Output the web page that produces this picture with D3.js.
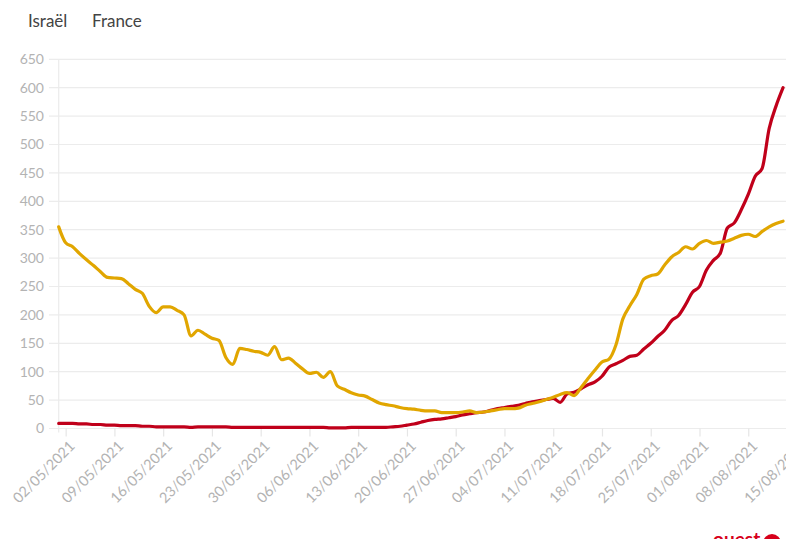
<!DOCTYPE html>
<html>
<head>
<meta charset="utf-8">
<script src="https://cdn.jsdelivr.net/npm/d3@7"></script>
<style>
  html, body { margin: 0; padding: 0; background: #fff; overflow: hidden; }
  svg { display: block; font-family: Lato, "Open Sans", sans-serif; }
</style>
</head>
<body>
<svg id="canvas" width="786" height="539"></svg>
<script>
// data : taux d'incidence, 01/05/2021 -> 13/08/2021 (one value per day)
let startDate = '01/05/2021'
let seriesNames = ['Israël', 'France']
let seriesColors = ['#c0001a', '#e1a600']

let israelValues = [
  9, 9, 9, 8, 8, 7, 7, 6, 6, 5,
  5, 5, 4, 4, 3, 3, 3, 3, 3, 2,
  3, 3, 3, 3, 3, 2, 2, 2, 2, 2,
  2, 2, 2, 2, 2, 2, 2, 2, 2, 1,
  1, 1, 2, 2, 2, 2, 2, 2, 3, 4,
  6, 8, 11, 14, 16, 17, 19, 21, 24, 26,
  28, 29, 32, 35, 37, 39, 41, 44, 47, 49,
  51, 53, 46, 61, 64, 70, 77, 82, 92, 108,
  114, 120, 127, 129, 140, 150, 162, 173, 190, 199,
  218, 240, 250, 279, 296, 309, 353, 362, 385, 412,
  444, 458, 528, 568, 600
]

let franceValues = [
  355, 327, 320, 308, 297, 287, 276, 266, 265, 264,
  255, 245, 238, 215, 204, 214, 214, 208, 200, 163,
  173, 166, 159, 155, 125, 113, 141, 139, 136, 134,
  129, 144, 121, 124, 115, 105, 97, 99, 90, 100,
  75, 69, 63, 59, 57, 51, 45, 42, 40, 37,
  35, 34, 32, 31, 31, 28, 28, 28, 29, 31,
  28, 29, 31, 33, 35, 35, 36, 41, 44, 47,
  51, 55, 60, 63, 58, 72, 88, 103, 117, 122,
  147, 193, 216, 236, 263, 269, 272, 288, 302, 310,
  320, 316, 326, 331, 326, 328, 330, 335, 340, 342,
  338, 347, 355, 361, 365
]

let yTicks = [0, 50, 100, 150, 200, 250, 300, 350, 400, 450, 500, 550, 600, 650]
let xTickLabels = ['02/05/2021', '09/05/2021', '16/05/2021', '23/05/2021', '30/05/2021',
  '06/06/2021', '13/06/2021', '20/06/2021', '27/06/2021', '04/07/2021', '11/07/2021',
  '18/07/2021', '25/07/2021', '01/08/2021', '08/08/2021', '15/08/2021']

let parseDate = d3.utcParse('%d/%m/%Y')
let fmt = d3.utcFormat('%d/%m/%Y')

let canvas = d3.select('#canvas')

let start = parseDate(startDate)
let dates = israelValues.map((v, i) => d3.utcDay.offset(start, i))

let xScale = d3.scaleUtc()
  .domain([start, parseDate('15/08/2021')])
  .range([58.7, 797])

let yScale = d3.scaleLinear()
  .domain([0, 650])
  .range([428.5, 59.3])

// grid lines
canvas.append('g')
  .selectAll('line')
  .data(yTicks)
  .enter()
  .append('line')
  .attr('x1', 49)
  .attr('x2', 786)
  .attr('y1', (t) => yScale(t))
  .attr('y2', (t) => yScale(t))
  .attr('stroke', '#ececec')
  .attr('stroke-width', 1.2)

// vertical axis line
canvas.append('line')
  .attr('x1', xScale(start)).attr('x2', xScale(start))
  .attr('y1', yScale(650)).attr('y2', yScale(0) + 4)
  .attr('stroke', '#ececec')
  .attr('stroke-width', 1.2)

// y axis labels
let yAxis = d3.axisLeft(yScale).tickValues(yTicks).tickSize(0).tickPadding(0)
let yG = canvas.append('g')
  .attr('transform', 'translate(44,0)')
  .call(yAxis)
yG.select('.domain').remove()
yG.selectAll('text')
  .attr('fill', '#b3b3b3')
  .style('font-size', '14px')
  .style('font-family', 'Lato, "Open Sans", sans-serif')

// x axis
let xTicks = xTickLabels.map((s) => parseDate(s))
let xAxis = d3.axisBottom(xScale).tickValues(xTicks).tickFormat(fmt).tickSize(8).tickPadding(0)
let xG = canvas.append('g')
  .attr('transform', 'translate(0,' + yScale(0) + ')')
  .call(xAxis)
xG.select('.domain').remove()
xG.selectAll('.tick line')
  .attr('stroke', '#e6e6e6')
  .attr('stroke-width', 1.2)
xG.selectAll('text')
  .attr('fill', '#b3b3b3')
  .style('font-size', '14.5px')
  .style('font-family', 'Lato, "Open Sans", sans-serif')
  .attr('text-anchor', 'end')
  .attr('transform', 'translate(6,15) rotate(-45)')
  .attr('dy', '0.35em')
  .attr('y', 0)

// lines
let line = d3.line()
  .x((d) => xScale(d.date))
  .y((d) => yScale(d.value))
  .curve(d3.curveMonotoneX)

let allSeries = [israelValues, franceValues]
allSeries.forEach((values, i) => {
  let points = values.map((v, j) => ({ date: dates[j], value: v }))
  canvas.append('path')
    .datum(points)
    .attr('d', line)
    .attr('fill', 'none')
    .attr('stroke', seriesColors[i])
    .attr('stroke-width', 3.2)
    .attr('stroke-linejoin', 'round')
    .attr('stroke-linecap', 'round')
})

// legend (text only)
let legendX = [28, 92]
canvas.append('g')
  .selectAll('text')
  .data(seriesNames)
  .enter()
  .append('text')
  .attr('x', (d, i) => legendX[i])
  .attr('y', 27)
  .attr('fill', '#444')
  .style('font-size', '17px')
  .text((d) => d)

// logo at bottom right (cut by the frame)
canvas.append('text')
  .attr('x', 713)
  .attr('y', 546)
  .attr('fill', '#d7001b')
  .style('font-size', '19px')
  .style('font-weight', 'bold')
  .text('ouest')
canvas.append('circle')
  .attr('cx', 772)
  .attr('cy', 543)
  .attr('r', 9)
  .attr('fill', '#d7001b')
</script>
</body>
</html>
